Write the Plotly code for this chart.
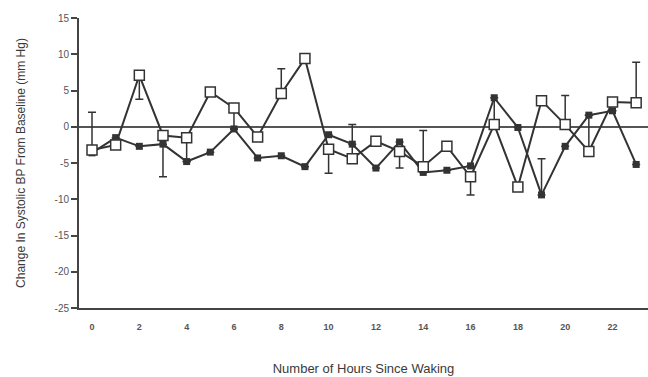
import plotly.graph_objects as go

hours = list(range(24))

# Open-square series
open_vals = [-3.2, -2.5, 7.1, -1.2, -1.5, 4.8, 2.6, -1.4, 4.6, 9.4, -3.1, -4.4,
             -2.0, -3.4, -5.5, -2.7, -6.9, 0.3, -8.3, 3.6, 0.3, -3.4, 3.4, 3.3]
open_err_plus = [5.2, 0, 0, 0, 0, 0, 0, 0, 3.4, 0, 0, 4.7,
                 0, 0, 5.0, 0, 0, 0, 0, 0, 4.0, 5.0, 0, 5.6]
open_err_minus = [0, 0, 3.3, 5.7, 3.3, 0, 2.9, 0, 0, 0, 3.3, 0,
                  0, 2.3, 0, 0, 2.5, 0, 0, 0, 0, 0, 0, 0]

# Filled-square series
filled_vals = [-3.6, -1.5, -2.7, -2.4, -4.8, -3.5, -0.3, -4.3, -4.0, -5.5, -1.1, -2.4,
               -5.7, -2.1, -6.3, -6.0, -5.4, 4.0, -0.1, -9.4, -2.7, 1.6, 2.2, -5.2]
filled_err_plus = [0, 0, 0, 0, 0, 0, 0, 0, 0, 0, 0, 0,
                   0, 0, 0, 0, 0, 0, 0, 5.0, 0, 0, 0, 0]
filled_err_minus = [0, 0, 0, 0, 0, 0, 0, 0, 0, 0, 0, 0,
                    0, 0, 0, 0, 0, 3.7, 0, 0, 0, 0, 0, 0]

x_ticks = list(range(0, 24, 2))
y_ticks = [15, 10, 5, 0, -5, -10, -15, -20, -25]

ink = "#333333"
textc = "#555555"

fig = go.Figure()

fig.add_trace(go.Scatter(
    x=hours, y=filled_vals, mode="lines+markers",
    line=dict(color=ink, width=2),
    marker=dict(symbol="square", size=7, color=ink),
    error_y=dict(type="data", symmetric=False, array=filled_err_plus,
                 arrayminus=filled_err_minus, color=ink, thickness=1.5, width=4),
    showlegend=False,
))

fig.add_trace(go.Scatter(
    x=hours, y=open_vals, mode="lines+markers",
    line=dict(color=ink, width=2),
    marker=dict(symbol="square", size=10, color="white",
                line=dict(color=ink, width=1.5)),
    error_y=dict(type="data", symmetric=False, array=open_err_plus,
                 arrayminus=open_err_minus, color=ink, thickness=1.5, width=4),
    showlegend=False,
))

fig.update_layout(
    width=648, height=377,
    margin=dict(l=79, r=0, t=18, b=69),
    paper_bgcolor="white", plot_bgcolor="white",
    font=dict(family="Liberation Sans, Arial, sans-serif", color=textc),
)

fig.update_xaxes(
    range=[-0.55, 23.5],
    tickvals=x_ticks, ticktext=[f"<b>{t}</b>" for t in x_ticks],
    tickfont=dict(size=9, color=textc),
    ticks="outside", ticklen=9, tickcolor="rgba(255,255,255,0)",
    showgrid=False, zeroline=False,
    showline=True, linecolor="#444444", linewidth=2,
    title=dict(text="Number of Hours Since Waking",
               font=dict(family="Liberation Sans, sans-serif",
                         size=13, color="#3a3a3a"),
               standoff=33),
)

fig.update_yaxes(
    range=[-25, 15],
    tickvals=y_ticks, ticktext=[str(t) for t in y_ticks],
    tickfont=dict(size=10, color=textc),
    ticks="outside", ticklen=6, tickwidth=1.5, tickcolor="#444444",
    showgrid=False,
    zeroline=True, zerolinecolor="#555555", zerolinewidth=1.5,
    showline=True, linecolor="#444444", linewidth=2,
    title=dict(text="Change In Systolic BP From Baseline (mm Hg)",
               font=dict(family="Liberation Sans, sans-serif",
                         size=12, color="#3a3a3a"),
               standoff=26),
)

fig.write_html("out.html")
